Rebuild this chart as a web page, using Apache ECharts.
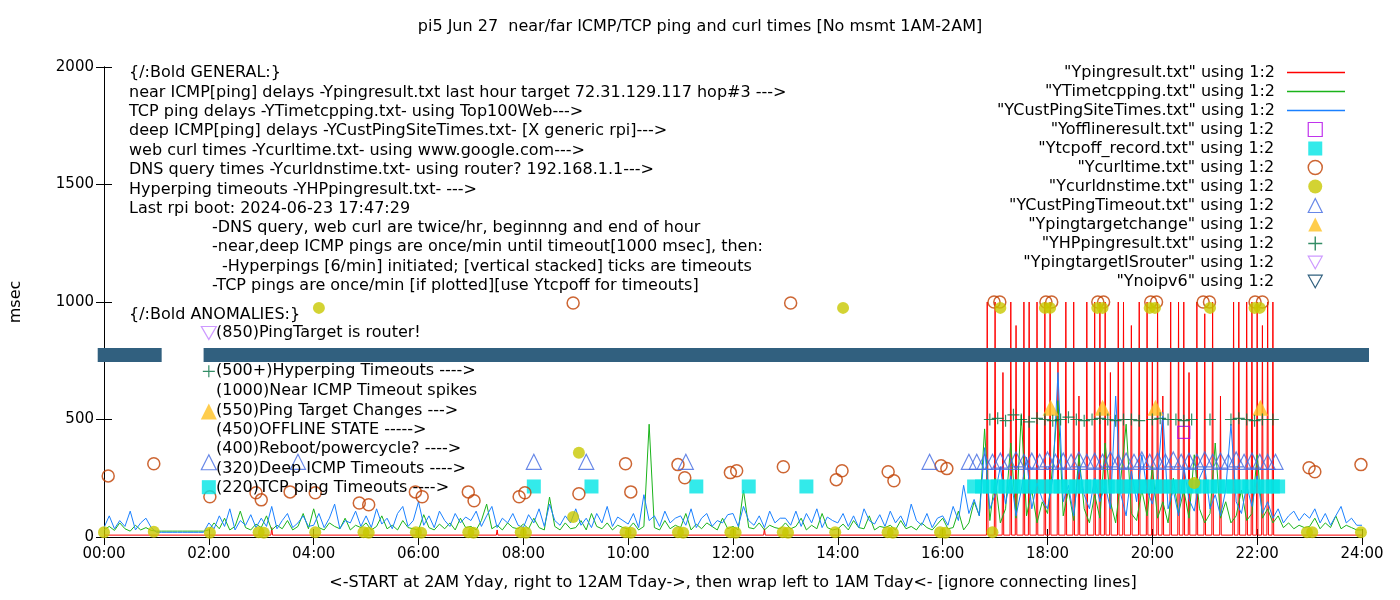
<!DOCTYPE html>
<html><head><meta charset="utf-8">
<script src="https://cdn.jsdelivr.net/npm/echarts@6/dist/echarts.min.js"></script>
<style>html,body{margin:0;padding:0;background:#fff}#c{width:1400px;height:600px}</style>
</head><body><div id="c"></div>
<script>
const xTicks = [0,2,4,6,8,10,12,14,16,18,20,22,24];
const yTicks = [0,500,1000,1500,2000];
const stepHours = 0.1;
// green: YTimetcpping, sampled every 0.1h from 00:00
const tcpVals = [
 30,45,28,60,35,25,50,30,40,28, 25,25,25,25,25,25,25,25,25,25,
 30,60,35,80,30,45,110,40,30,55, 40,90,30,50,35,70,30,45,100,35,
 120,40,30,60,45,35,80,30,50,40, 60,30,45,90,35,50,30,70,40,35,
 30,95,40,30,55,35,60,30,80,40, 45,30,70,140,35,50,30,60,40,35,
 55,35,80,40,30,170,45,30,60,35, 40,70,30,100,45,35,60,30,50,40,
 35,60,30,45,480,40,30,70,35,50, 40,100,30,55,35,60,45,30,80,35,
 45,30,200,40,35,60,30,50,40,35, 60,35,45,80,30,50,35,100,40,30,
 35,55,30,70,40,35,90,30,45,40, 50,30,70,35,45,30,60,40,30,55,
 80,35,40,110,30,60,150,90,460,70, 250,60,120,400,80,520,90,200,60,150,
 100,300,580,90,200,70,350,120,60,180, 80,400,150,60,250,480,100,70,200,90,
 300,80,150,60,250,100,200,80,350,120, 60,100,400,80,150,60,90,200,70,100,
 350,80,120,60,90,40,60,35,50,40, 45,80,35,60,40,90,35,50,40,30, 30];
// blue: YCustPingSiteTimes
const custVals = [
 40,90,35,70,45,110,30,60,80,40, 20,20,20,20,20,20,20,20,20,20,
 60,35,90,45,120,30,70,50,95,40, 80,45,130,35,70,100,40,60,90,45,
 50,100,40,80,140,35,70,60,110,45, 90,40,120,55,80,35,100,130,45,70,
 150,50,90,40,110,70,45,100,60,85, 70,110,45,90,130,40,80,60,100,50,
 40,95,60,120,45,140,70,50,90,60, 120,50,80,40,100,60,130,45,85,70,
 55,100,40,180,70,90,45,110,60,80, 90,50,120,40,80,100,45,70,60,95,
 100,45,130,70,50,90,40,110,60,80, 80,50,110,45,100,60,120,40,85,70,
 60,100,45,90,40,120,70,55,95,45, 110,60,90,45,140,70,50,100,40,80,
 90,50,130,70,220,100,160,90,380,120, 180,300,140,260,90,200,340,120,230,160,
 120,250,700,150,220,90,300,180,120,250, 150,220,120,600,180,90,280,150,350,200,
 140,250,530,120,200,90,300,160,110,250, 300,120,180,90,200,480,150,100,220,130,
 260,100,150,80,120,60,90,110,70,100, 80,120,60,100,50,90,130,60,80,50, 50];
// red: Ypingresult spikes [hour, msec] over baseline
const pingBase = 8;
const pingSpikes = [[3.2,40],[7.5,30],[12.6,35],[16.85,1000],[17.0,1000],[17.15,700],[17.3,1000],[17.4,900],[17.55,1000],[17.65,1000],[17.8,1000],
 [17.95,1000],[18.05,1000],[18.2,800],[18.35,1000],[18.5,1000],[18.6,600],[18.75,1000],[18.9,1000],[19.0,1000],[19.1,1000],
 [19.2,700],[19.35,1000],[19.45,1000],[19.6,900],[19.75,1000],[19.9,1000],[20.0,800],[20.1,1000],[20.2,600],[20.35,1000],
 [20.5,1000],[20.6,1000],[20.7,700],[20.85,1000],[21.0,950],[21.15,1000],[21.3,600],[21.55,1000],[21.65,1000],[21.8,1000],
 [21.9,1000],[22.0,1000],[22.1,900],[22.2,1000],[22.3,1000]];
const offlinePts = [[20.6,445]];
const tcpoffPts = [[8.2,215],[9.3,215],[11.3,215],[12.3,215],[13.4,215],[16.6,215],[16.75,215],[16.9,215],[17.05,215],[17.2,215],[17.35,215],[17.5,215],
 [17.65,215],[17.8,215],[17.95,215],[18.1,215],[18.25,215],[18.4,215],[18.55,215],[18.7,215],[18.85,215],[19.0,215],[19.15,215],[19.3,215],
 [19.45,215],[19.6,215],[19.75,215],[19.9,215],[20.05,215],[20.2,215],[20.35,215],[20.5,215],[20.65,215],[20.8,215],[20.95,215],[21.1,215],
 [21.25,215],[21.4,215],[21.55,215],[21.7,215],[21.85,215],[22.0,215],[22.15,215],[22.3,215],[22.4,215]];
const curlPts = [[0.08,260],[0.95,312],[2.02,171],[2.9,188],[3.0,158],[3.55,192],[4.03,188],[4.87,145],[5.05,137],[5.94,192],[6.07,171],
 [6.95,192],[7.06,154],[7.92,171],[8.03,188],[8.95,996],[9.06,184],[9.95,312],[10.05,192],[10.95,308],[11.08,252],[11.95,274],[12.07,282],
 [12.96,299],[13.1,996],[13.97,244],[14.08,282],[14.96,278],[15.07,239],[15.97,303],[16.08,291],[16.98,1000],[17.09,1000],[17.97,1000],
 [18.08,1000],[18.96,1000],[19.07,1000],[19.97,1000],[20.08,1000],[20.97,1000],[21.09,1000],[21.96,1000],[22.1,1000],[22.99,295],[23.1,278],[23.98,308]];
const dnsPts = [[0.0,20],[0.95,22],[2.02,18],[2.95,20],[3.05,18],[4.03,20],[4.1,975],[4.95,20],[5.05,18],[5.95,20],[6.05,18],[6.95,20],[7.05,18],
 [7.95,20],[8.05,18],[8.95,85],[9.06,359],[9.95,20],[10.05,18],[10.95,20],[11.05,18],[11.95,20],[12.05,18],[12.95,20],[13.05,18],[13.95,20],
 [14.1,975],[14.95,20],[15.05,18],[15.95,20],[16.05,18],[16.95,20],[17.1,975],[17.95,975],[18.05,975],[18.95,975],[19.05,975],[19.95,975],
 [20.05,975],[20.8,230],[21.1,975],[21.95,975],[22.05,975],[22.95,20],[23.05,20],[23.98,20]];
const deepToPts = [[3.7,320],[8.2,320],[9.2,320],[11.1,320],[15.75,320],[16.5,320],[16.65,320],[16.8,320],[16.95,320],[17.1,325],[17.25,320],
 [17.4,330],[17.55,320],[17.7,325],[17.85,320],[18.0,330],[18.15,320],[18.3,325],[18.45,320],[18.6,330],[18.75,320],[18.9,325],[19.05,320],
 [19.2,330],[19.35,320],[19.5,325],[19.65,320],[19.8,330],[19.95,320],[20.1,325],[20.25,320],[20.4,330],[20.55,320],[20.7,325],[20.85,320],
 [21.0,330],[21.15,320],[21.3,325],[21.45,320],[21.6,330],[21.75,320],[21.9,325],[22.05,320],[22.2,320],[22.35,320]];
const targetChgPts = [[18.06,550],[19.05,550],[20.06,550],[22.06,550]];
const hpPts = [[16.9,500],[17.05,505],[17.2,495],[17.35,520],[17.5,500],[17.65,490],[17.8,505],[17.95,500],[18.1,495],[18.25,500],
 [18.4,510],[18.55,500],[18.7,495],[18.85,500],[19.0,505],[19.15,500],[19.3,495],[19.45,500],[19.6,500],[19.75,495],[20.0,500],
 [20.15,505],[20.3,500],[20.45,500],[20.6,495],[20.75,500],[21.1,500],[21.5,500],[21.65,505],[21.8,500],[21.95,495],[22.1,500],[22.3,500]];
const routerPts = [];
const noipv6Segs = [[-0.12,775],[1.1,775],[1.5,'-'],[1.9,775],[24.5,775]];
const keyPts = {router:[2.0,868], hp:[2.0,705], tchg:[2.0,534], deep:[2.0,318], tcpoff:[2.0,212]};

const sampled = vals => vals.map((v,i)=>[+(i*stepHours).toFixed(2), v]);
const pingLine = (()=>{const out=[[0,pingBase]];pingSpikes.forEach(([t,v])=>{out.push([t-0.015,pingBase],[t,v],[t+0.015,pingBase]);});out.push([24,pingBase]);return out;})();

const C = {red:'#ff0000',green:'#1ab31a',blue:'#1a80ff',purple:'#b000e8',cyan:'#00e5e5',brown:'#c04000',olive:'#c8c800',royal:'#4169e1',gold:'#ffc020',dgreen:'#007040',lav:'#c080ff',slate:'#31607f'};
const downTri = 'path://M0,0L10,0L5,9Z';
const plus = 'path://M4.5,0L5.5,0L5.5,4.5L10,4.5L10,5.5L5.5,5.5L5.5,10L4.5,10L4.5,5.5L0,5.5L0,4.5L4.5,4.5Z';
const F = 'DejaVu Sans';

const chart = echarts.init(document.getElementById('c'));
const texts = [
 [129,74,'{/:Bold GENERAL:}'],
 [129,94,'near ICMP[ping] delays -Ypingresult.txt last hour target 72.31.129.117 hop#3 --->'],
 [129,113,'TCP ping delays -YTimetcpping.txt- using Top100Web--->'],
 [129,132,'deep ICMP[ping] delays -YCustPingSiteTimes.txt- [X generic rpi]--->'],
 [129,152,'web curl times -Ycurltime.txt- using www.google.com--->'],
 [129,171,'DNS query times -Ycurldnstime.txt- using router? 192.168.1.1--->'],
 [129,191,'Hyperping timeouts -YHPpingresult.txt- --->'],
 [129,210,'Last rpi boot: 2024-06-23 17:47:29'],
 [212,229,'-DNS query, web curl are twice/hr, beginnng and end of hour'],
 [212,248,'-near,deep ICMP pings are once/min until timeout[1000 msec], then:'],
 [222,268,'-Hyperpings [6/min] initiated; [vertical stacked] ticks are timeouts'],
 [212,287,'-TCP pings are once/min [if plotted][use Ytcpoff for timeouts]'],
 [129,316,'{/:Bold ANOMALIES:}'],
 [216,334,'(850)PingTarget is router!'],
 [216,372,'(500+)Hyperping Timeouts ---->'],
 [216,392,'(1000)Near ICMP Timeout spikes'],
 [216,412,'(550)Ping Target Changes --->'],
 [216,431,'(450)OFFLINE STATE ----->'],
 [216,450,'(400)Reboot/powercycle? ---->'],
 [216,470,'(320)Deep ICMP Timeouts ---->'],
 [216,489,'(220)TCP ping Timeouts ---->']
];
const sc = (name,data,symbol,size,style,z) => ({name,type:'scatter',data,symbol,symbolSize:size,itemStyle:style,z:z||3});
const hollow = (c,w) => ({color:'transparent',borderColor:c,borderWidth:w||1.2});
const N = ['"Ypingresult.txt" using 1:2','"YTimetcpping.txt" using 1:2','"YCustPingSiteTimes.txt" using 1:2','"Yofflineresult.txt" using 1:2',
 '"Ytcpoff_record.txt" using 1:2','"Ycurltime.txt" using 1:2','"Ycurldnstime.txt" using 1:2','"YCustPingTimeout.txt" using 1:2',
 '"Ypingtargetchange" using 1:2','"YHPpingresult.txt" using 1:2','"YpingtargetISrouter" using 1:2','"Ynoipv6" using 1:2'];
const axisCommon = {axisLine:{show:true,lineStyle:{color:'#000'}},axisTick:{show:true,inside:true,length:8,lineStyle:{color:'#000'}},splitLine:{show:false}};
chart.setOption({
 animation:false,
 textStyle:{fontFamily:F},
 title:{text:'pi5 Jun 27  near/far ICMP/TCP ping and curl times [No msmt 1AM-2AM]',left:'center',top:14,textStyle:{fontFamily:F,fontSize:16,fontWeight:'normal',color:'#000'}},
 grid:{left:101,right:38,top:67,bottom:63},
 legend:[
  {orient:'vertical',right:50,top:58,align:'right',itemWidth:58,itemHeight:1.5,itemGap:0,
   textStyle:{fontFamily:F,fontSize:16,color:'#000',lineHeight:19,padding:[0,7,0,0]},
   data:[[N[0],C.red],[N[1],C.green],[N[2],C.blue]].map(([n,c])=>({name:n,icon:'rect',itemStyle:{color:c,borderWidth:0}}))},
  {orient:'vertical',right:72,top:115,align:'right',itemWidth:14,itemHeight:14,itemGap:0,
   textStyle:{fontFamily:F,fontSize:16,color:'#000',lineHeight:19,padding:[0,29,0,0]},
   data:[
    {name:N[3],icon:'rect',itemStyle:hollow(C.purple)},
    {name:N[4],icon:'rect'},
    {name:N[5],icon:'circle',itemStyle:hollow(C.brown,1.5)},
    {name:N[6],icon:'circle'},
    {name:N[7],icon:'triangle',itemStyle:hollow(C.royal)},
    {name:N[8],icon:'triangle'},
    {name:N[9],icon:plus},
    {name:N[10],icon:downTri,itemStyle:hollow(C.lav)},
    {name:N[11],icon:downTri,itemStyle:hollow(C.slate)}
   ]}],
 xAxis:[Object.assign({type:'value',min:0,max:24,interval:2,
   axisLabel:{color:'#000',fontSize:15,margin:10,formatter:v=>String(v).padStart(2,'0')+':00'},
   name:'<-START at 2AM Yday, right to 12AM Tday->, then wrap left to 1AM Tday<- [ignore connecting lines]',nameLocation:'middle',nameGap:38,nameTextStyle:{color:'#000',fontSize:16}},axisCommon),
  Object.assign({type:'value',position:'top',min:0,max:24,interval:2,axisLabel:{show:false}},axisCommon)],
 yAxis:[Object.assign({type:'value',min:0,max:2000,interval:500,
   axisLabel:{color:'#000',fontSize:15,margin:10,formatter:v=>String(v)},name:'msec',nameLocation:'middle',nameGap:80,nameTextStyle:{color:'#000',fontSize:16}},axisCommon),
  Object.assign({type:'value',position:'right',min:0,max:2000,interval:500,axisLabel:{show:false}},axisCommon)],
 graphic:texts.map(([x,y,t])=>({type:'text',left:x,top:y-9,z:100,style:{text:t,font:'16px "DejaVu Sans"',fill:'#000'}})),
 series:[
  {name:N[11],type:'line',data:noipv6Segs,symbol:'none',clip:false,lineStyle:{width:14,color:C.slate,cap:'butt'},itemStyle:{color:C.slate},z:5},
  {name:N[0],type:'line',data:pingLine,symbol:'none',lineStyle:{width:1,color:C.red},itemStyle:{color:C.red},z:2},
  {name:N[1],type:'line',data:sampled(tcpVals),symbol:'none',lineStyle:{width:1,color:C.green},itemStyle:{color:C.green},z:2},
  {name:N[2],type:'line',data:sampled(custVals),symbol:'none',lineStyle:{width:1,color:C.blue},itemStyle:{color:C.blue},z:2},
  sc(N[3],offlinePts,'rect',12,hollow(C.purple)),
  sc(N[4],tcpoffPts,'rect',14,{color:C.cyan}),
  sc(N[5],curlPts,'circle',12,hollow(C.brown,1.5)),
  sc(N[6],dnsPts,'circle',12,{color:C.olive}),
  sc(N[7],deepToPts,'triangle',15,hollow(C.royal)),
  sc(N[8],targetChgPts,'triangle',16,{color:C.gold}),
  sc(N[9],hpPts,plus,12,{color:C.dgreen}),
  sc(N[10],routerPts,downTri,14,hollow(C.lav)),
  {type:'scatter',z:6,data:[
   {value:keyPts.router,symbol:downTri,symbolSize:[15,13],itemStyle:hollow(C.lav)},
   {value:keyPts.hp,symbol:plus,symbolSize:12,itemStyle:{color:C.dgreen}},
   {value:keyPts.tchg,symbol:'triangle',symbolSize:16,itemStyle:{color:C.gold}},
   {value:keyPts.deep,symbol:'triangle',symbolSize:15,itemStyle:hollow(C.royal)},
   {value:keyPts.tcpoff,symbol:'rect',symbolSize:14,itemStyle:{color:C.cyan}}
  ]}
 ]
});
</script></body></html>
